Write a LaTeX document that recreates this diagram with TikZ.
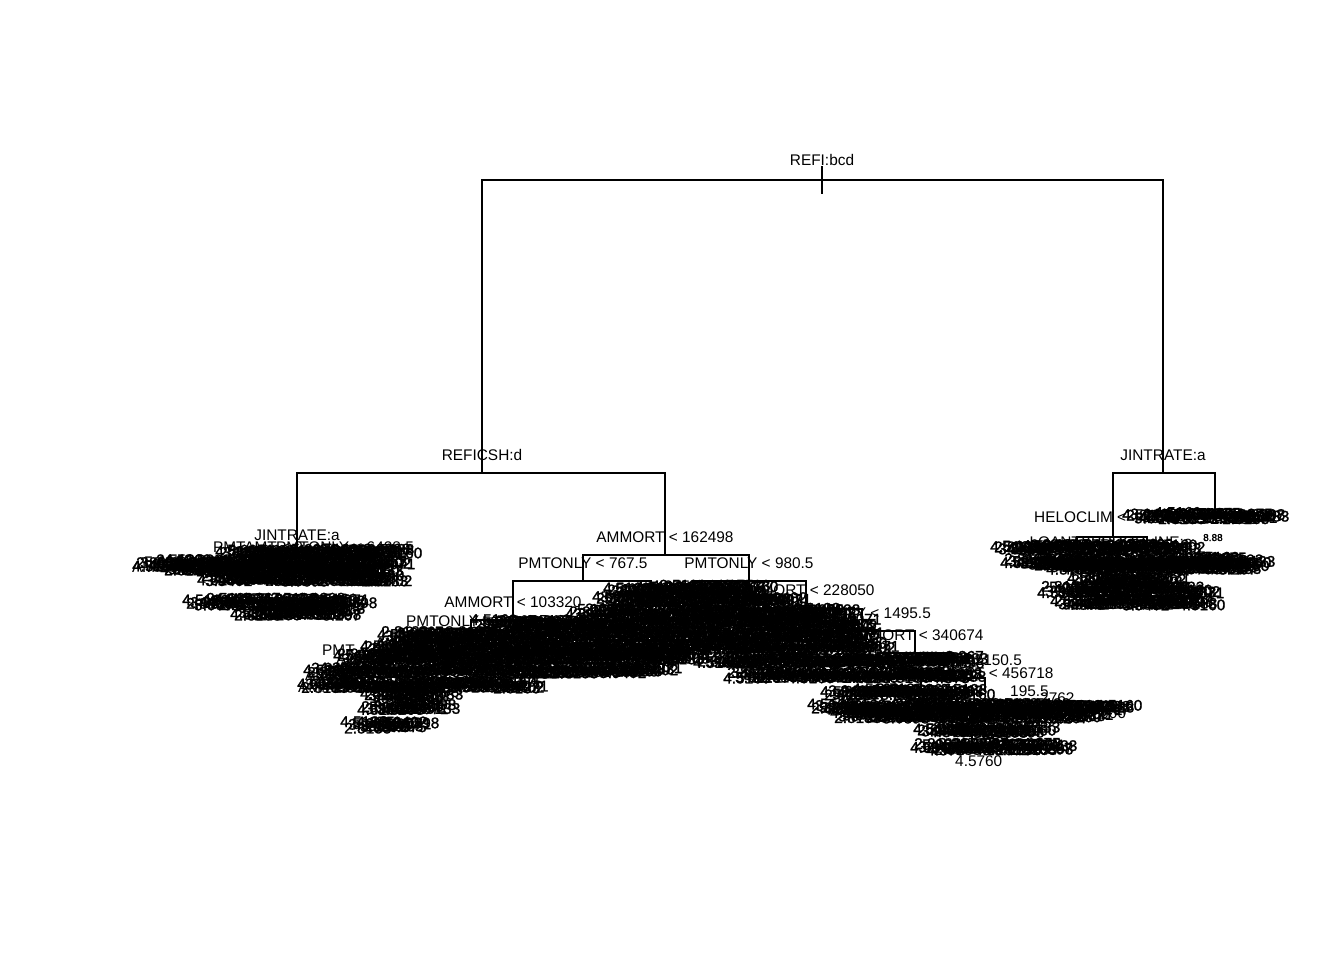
\documentclass[tikz,border=0pt]{standalone}
\usepackage{fontspec}
\setmainfont{Liberation Sans}
\newfontfamily\blobfont[FakeBold=1.5]{Liberation Sans}
\newcommand\leafval[1]{\ifcase#1 3.267\or 4.5160\or 2.8133\or 3.9402\or 5.0071\or 4.375\or 3.0898\or 2.5133\fi}
\begin{document}
\begin{tikzpicture}[x=1pt,y=-1pt,
  br/.style={line width=1.6pt,line cap=rect},
  lab/.style={inner sep=0pt,anchor=base,font=\fontsize{15.4}{18}\selectfont},
  leaf/.style={inner sep=0pt,anchor=base west,font=\fontsize{15.4}{18}\selectfont},
  blob/.style={inner sep=0pt,anchor=base west,font=\blobfont\fontsize{15.4}{18}\selectfont}]
\useasboundingbox (0,0) rectangle (1344,960);
\fill[white] (0,0) rectangle (1344,960);
% ---- tree node positions
\coordinate (root) at (822,180);
\coordinate (rtop) at (822,167);
\coordinate (rbot) at (822,193);
\coordinate (n2) at (482,473);
\coordinate (n3) at (1163,473);
\coordinate (n4) at (297,553);
\coordinate (n5) at (665,555);
\coordinate (n10) at (583,581);
\coordinate (n11) at (749,581);
\coordinate (n20) at (513,620);
\coordinate (n21) at (651,598);
\coordinate (n22) at (693,597);
\coordinate (n23) at (806,609);
\coordinate (n40) at (471,640);
\coordinate (n41) at (555,630);
\coordinate (n46) at (755,622);
\coordinate (n47) at (862,631);
\coordinate (n94) at (815,645);
\coordinate (n95) at (915,653);
\coordinate (n190) at (878,665);
\coordinate (n191) at (953,678);
\coordinate (n382) at (921,690);
\coordinate (n383) at (985,691);
\coordinate (n6) at (1113,537);
\coordinate (n7) at (1215,512);
\coordinate (n12) at (1077,552);
\coordinate (n13) at (1147,552);
\coordinate (bt) at (972,725);
\coordinate (bb) at (972,750);
% ---- branches
\draw[br] (rtop) -- (rbot);
\foreach \c/\p in {n2/root,n3/root,n4/n2,n5/n2,n10/n5,n11/n5,n20/n10,n21/n10,n22/n11,n23/n11,
  n40/n20,n41/n20,n46/n23,n47/n23,n94/n47,n95/n47,n190/n95,n191/n95,n382/n191,n383/n191,
  n6/n3,n7/n3,n12/n6,n13/n6}
  \draw[br] (\c) |- (\p);
\draw[br] (bt) -- (bb);
% ---- dense overlapping leaf labels
\pgfmathsetseed{7}
\foreach \yy/\xa/\xb in {557/215/420,568/132/410,575/160/400,583/197/410,607/182/372,617/230/365,
  628/470/883,640/377/883,652/360/895,662/333/712,675/303/680,690/297/550,700/360/460,712/357/457,730/340/437,
  594/603/773,605/592/807,617/565/862,665/693/990,680/723/987,697/820/990,712/807/1140,720/830/1110,735/913/1057,752/910/1077,
  521/1122/1290,553/990/1203,566/1000/1270,572/1030/1267,585/1067/1187,595/1037/1220,607/1050/1220}{
  \pgfmathsetmacro\xc{\xa+4}
  \pgfmathsetmacro\xe{\xb-42}
  \foreach \xx [count=\k] in {\xa,\xc,...,\xe}{
    \pgfmathsetmacro\jy{\yy+3.5*rand}
    \pgfmathtruncatemacro\ti{mod(\k,8)}
    \node[blob] at (\xx,\jy) {\leafval{\ti}};
  }
}
\node[blob] at (1203,541) {\fontsize{10}{10}\selectfont 8.88};
\node[leaf] at (955,766) {4.5760};
% ---- readable split labels
\node[lab] (l1) at (822,166) {REFI:bcd};
\node[lab] (l2) at (482,460) {REFICSH:d};
\node[lab] (l3) at (1163,460) {JINTRATE:a};
\node[lab] (l4) at (297,540) {JINTRATE:a};
\node[lab] (l5) at (665,542) {AMMORT < 162498};
\node[lab] (l10) at (583,568) {PMTONLY < 767.5};
\node[lab] (l11) at (749,568) {PMTONLY < 980.5};
\node[lab] (l20) at (513,607) {AMMORT < 103320};
\node[lab] (l23) at (806,595) {AMMORT < 228050};
\node[lab] (l47) at (862,618) {PMTONLY < 1495.5};
\node[lab] (l95) at (915,640) {AMMORT < 340674};
\node[lab] (l191) at (953,665) {PMTONLY < 2150.5};
\node[lab] (l383) at (985,678) {AMMORT < 456718};
\node[leaf] (l6) at (1034,522) {HELOCLIM <};
\node[lab] (l12) at (1077,547) {LOANTYPE:a};
\node[lab] (l13) at (1147,547) {PROPLINE:a};
\node[lab] (l8) at (258,552) {PMTAMT < 9};
\node[lab] (l9) at (345,552) {PMTONLY < 6428.5};
\node[leaf] (l16) at (132,572) {AMMORT < 3};
\node[leaf] (l40) at (406,626) {PMTONLY < 7};
\node[leaf] (l80) at (375,648) {AMMORT < 7};
\node[leaf] (l81) at (336,664) {AMMORT < 6};
\node[leaf] (l82) at (322,655) {PMT};
\node[leaf] (l84) at (298,692) {AMMORT};
\node[leaf] (l85) at (305,680) {AMMORT};
\node[leaf] (l50) at (640,662) {9.267};
\node[leaf] (l60) at (1010,696) {195.5};
\node[leaf] (l61) at (1040,703) {2762};
\node[leaf] (l62) at (1100,718) {606};
\end{tikzpicture}
\end{document}
